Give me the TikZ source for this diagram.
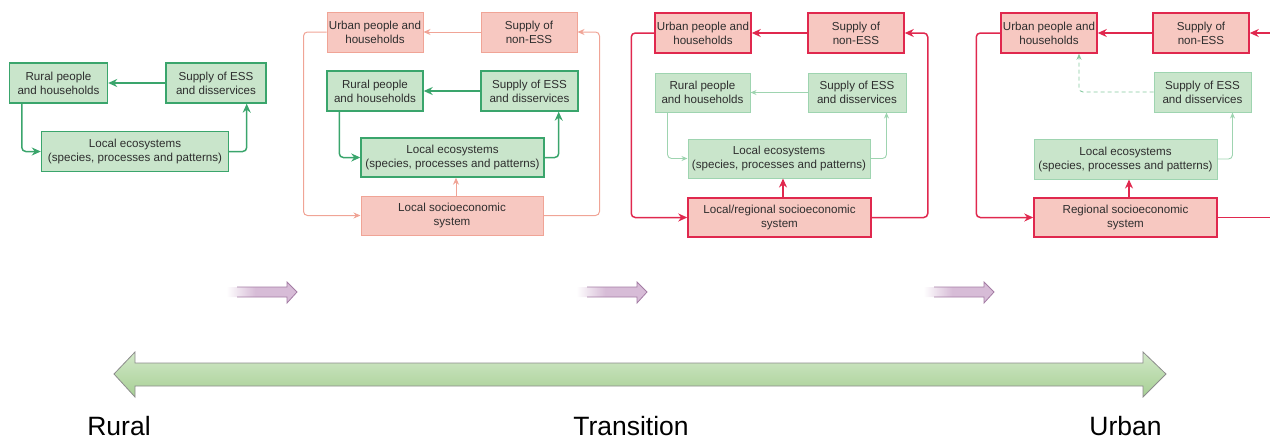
\documentclass[tikz,border=0pt]{standalone}
\usepackage{fontspec}
\setmainfont{Liberation Sans}
\usetikzlibrary{arrows.meta,calc,shadings}
\definecolor{gfill}{HTML}{C9E5CB}
\definecolor{gedge}{HTML}{3AA56C}
\definecolor{glight}{HTML}{9ED4B0}
\definecolor{gdash}{HTML}{86C9A0}
\definecolor{rfill}{HTML}{F7C8C1}
\definecolor{salmon}{HTML}{F0A496}
\definecolor{crimson}{HTML}{E0284E}
\definecolor{txt}{HTML}{2E2E2E}
\definecolor{purp}{HTML}{D7BCD7}
\definecolor{purpedge}{HTML}{A47CA4}
\definecolor{bigtop}{HTML}{D2E8C8}
\definecolor{bigbot}{HTML}{A6CF94}
\pgfdeclarehorizontalshading{purpfade}{100bp}{color(0bp)=(white); color(26bp)=(white); color(46bp)=(purp); color(100bp)=(purp)}
\tikzset{
  box/.style={rectangle, inner sep=0pt, align=center, text=txt,
    font=\fontsize{11.6}{14}\selectfont, minimum height=40pt},
  gbox/.style={box, fill=gfill, draw=gedge, line width=1.4pt},
  gboxl/.style={box, fill=gfill, draw=glight, line width=1pt},
  rbox/.style={box, fill=rfill, draw=salmon, line width=1pt},
  rboxd/.style={box, fill=rfill, draw=crimson, line width=1.5pt},
  garr/.style={draw=gedge, line width=1.5pt, rounded corners=4pt, -{Stealth[length=9pt,width=8pt]}},
  garrl/.style={draw=glight, line width=0.9pt, rounded corners=4pt, -{Stealth[length=6pt,width=5pt]}},
  rarrl/.style={draw=salmon, line width=1pt, rounded corners=4pt, -{Stealth[length=7pt,width=6pt]}},
  rarr/.style={draw=crimson, line width=1.5pt, rounded corners=4pt, -{Stealth[length=9pt,width=8pt]}},
  rline/.style={draw=crimson, line width=1.5pt},
  lab/.style={font=\fontsize{26.5}{30}\selectfont, text=black, anchor=base, inner sep=0pt},
}
\begin{document}
\begin{tikzpicture}[x=1pt,y=-1pt]
\useasboundingbox (0,0) rectangle (1270,439);
% ---------- Panel 1 ----------
\node[gbox, minimum width=98pt] (r1) at (58.5,83) {Rural people\\and households};
\node[gbox, minimum width=100pt] (e1) at (216,83) {Supply of ESS\\and disservices};
\node[gbox, minimum width=187pt] (l1) at (135,151.5) {Local ecosystems\\(species, processes and patterns)};
\draw[garr] (e1.west) -- (r1.east);
\draw[garr] ($(r1.south west)+(13,0)$) |- (l1.west);
\draw[garr] (l1.east) -| ($(e1.south east)+(-20,0)$);
% ---------- Panel 2 ----------
\node[rbox, minimum width=96pt] (u2) at (375,32) {Urban people and\\households};
\node[rbox, minimum width=96pt] (n2) at (529,32) {Supply of\\non-ESS};
\node[gbox, minimum width=96pt] (r2) at (375,91) {Rural people\\and households};
\node[gbox, minimum width=97pt] (e2) at (529.5,91) {Supply of ESS\\and disservices};
\node[gbox, minimum width=183pt, minimum height=39pt] (l2) at (452.5,157.5) {Local ecosystems\\(species, processes and patterns)};
\node[rbox, minimum width=182pt, minimum height=39pt] (s2) at (452,215.5) {Local socioeconomic\\system};
\draw[rarrl] (n2.west) -- (u2.east);
\draw[rarrl] (u2.west) -- ++(-23,0) |- (s2.west);
\draw[rarrl] (s2.east) -- ++(56,0) |- (n2.east);
\draw[rarrl] ($(s2.north)+(4,0)$) -- ($(l2.south)+(3.5,0)$);
\draw[garr] (e2.west) -- (r2.east);
\draw[garr] ($(r2.south west)+(13,0)$) |- (l2.west);
\draw[garr] (l2.east) -| ($(e2.south east)+(-20,0)$);
% ---------- Panel 3 ----------
\node[rboxd, minimum width=96pt] (u3) at (703,33) {Urban people and\\households};
\node[rboxd, minimum width=96pt] (n3) at (856,33) {Supply of\\non-ESS};
\node[gboxl, minimum width=95pt, minimum height=39pt] (r3) at (702.5,92.5) {Rural people\\and households};
\node[gboxl, minimum width=98pt, minimum height=39pt] (e3) at (857,92.5) {Supply of ESS\\and disservices};
\node[gboxl, minimum width=182pt, minimum height=39pt] (l3) at (779,158.5) {Local ecosystems\\(species, processes and patterns)};
\node[rboxd, minimum width=183pt, minimum height=39pt] (s3) at (779.5,217.5) {Local/regional socioeconomic\\system};
\draw[rarr] (n3.west) -- (u3.east);
\draw[rarr] (u3.west) -- ++(-23,0) |- (s3.west);
\draw[rarr] (s3.east) -- ++(56,0) |- (n3.east);
\draw[rarr] ($(s3.north)+(3.5,0)$) -- ($(l3.south)+(4,0)$);
\draw[garrl] (e3.west) -- (r3.east);
\draw[garrl] ($(r3.south west)+(13,0)$) |- (l3.west);
\draw[garrl] (l3.east) -| ($(e3.south east)+(-20,0)$);
% ---------- Panel 4 ----------
\node[rboxd, minimum width=96pt] (u4) at (1049,33) {Urban people and\\households};
\node[rboxd, minimum width=96pt] (n4) at (1201,33) {Supply of\\non-ESS};
\node[gboxl, minimum width=97pt] (e4) at (1202.5,92) {Supply of ESS\\and disservices};
\node[gboxl, minimum width=183pt] (l4) at (1125.5,159) {Local ecosystems\\(species, processes and patterns)};
\node[rboxd, minimum width=183pt, minimum height=39pt] (s4) at (1125.5,217.5) {Regional socioeconomic\\system};
\coordinate (n4in) at (1272,33);
\coordinate (s4out) at (1272,217.5);
\draw[rarr] (n4.west) -- (u4.east);
\draw[rarr] (n4in) -- (n4.east);
\draw[rarr] (u4.west) -- ++(-24,0) |- (s4.west);
\draw[rline] (s4.east) -- (s4out);
\draw[rarr] ($(s4.north)+(3.5,0)$) -- ($(l4.south)+(3.5,0)$);
\draw[garrl, draw=gdash, dashed, dash pattern=on 4pt off 3pt] (e4.west) -| ($(u4.south)+(30,0)$);
\draw[garrl] (l4.east) -| ($(e4.south east)+(-19,0)$);
% ---------- Purple transition arrows ----------
\foreach \x/\nm in {225/pa, 575/pb, 922/pc} {
  \path[shading=purpfade]
    (\x,287) -- (\x+62,287) -- (\x+62,282) -- (\x+72,292) -- (\x+62,303) -- (\x+62,297) -- (\x,297) -- cycle;
  \draw[purpedge, line width=0.8pt] (\x+12,287) -- (\x+62,287) -- (\x+62,282) -- (\x+72,292) -- (\x+62,303) -- (\x+62,297) -- (\x+12,297);
  \coordinate (\nm) at (\x+36,292);
}
% ---------- Big double arrow ----------
\path[top color=bigtop, bottom color=bigbot, draw=gray!90, line width=0.8pt]
  (114,374) -- (135,352) -- (135,363) -- (1143,363) -- (1143,352) -- (1166,374)
  -- (1143,397) -- (1143,386) -- (135,386) -- (135,397) -- cycle;
% ---------- Labels ----------
\node[lab] (rural) at (119,435) {Rural};
\node[lab] (trans) at (631,435) {Transition};
\node[lab] (urban) at (1125.5,435) {Urban};
\end{tikzpicture}
\end{document}
